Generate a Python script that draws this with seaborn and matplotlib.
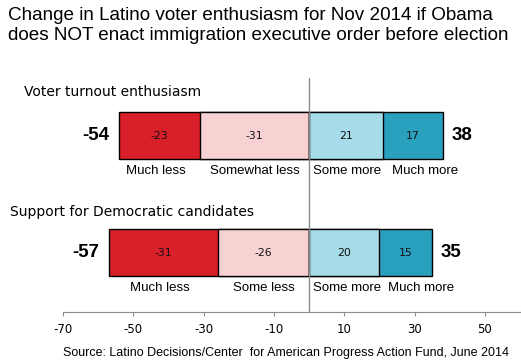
import matplotlib
matplotlib.use("Agg")
import matplotlib.pyplot as plt
import pandas as pd
import seaborn as sns

# Survey data (percent)
groups = ["Voter turnout enthusiasm", "Support for Democratic candidates"]
much_less = [-23, -31]
some_less = [-31, -26]
some_more = [21, 20]
much_more = [17, 15]
less_labels = ["Somewhat less", "Some less"]
xticks = [-70, -50, -30, -10, 10, 30, 50]

title = ("Change in Latino voter enthusiasm for Nov 2014 if Obama\n"
         "does NOT enact immigration executive order before election")
source = "Source: Latino Decisions/Center  for American Progress Action Fund, June 2014"

df = pd.DataFrame({"group": groups, "much_less": much_less, "some_less": some_less,
                   "some_more": some_more, "much_more": much_more})
df["neg_total"] = df["much_less"] + df["some_less"]
df["pos_total"] = df["some_more"] + df["much_more"]

red = "#d91f2a"
pink = "#f8d1d3"
lightblue = "#a6dcea"
teal = "#2aa0bf"

sns.set_style("white")
plt.rcParams["font.family"] = ["DejaVu Sans"]
plt.rcParams["text.color"] = "black"
plt.rcParams["xtick.color"] = "black"

fig = plt.figure(figsize=(5.21, 3.62), dpi=100)
ax = fig.add_axes([63 / 521, (362 - 311.7) / 362, (520 - 63) / 521, (311.7 - 78) / 362])

bw = 0.4
# outer segments first, inner segments drawn on top
sns.barplot(data=df, x="neg_total", y="group", color=red, saturation=1,
            edgecolor="black", linewidth=1, width=bw, ax=ax)
sns.barplot(data=df, x="some_less", y="group", color=pink, saturation=1,
            edgecolor="black", linewidth=1, width=bw, ax=ax)
sns.barplot(data=df, x="pos_total", y="group", color=teal, saturation=1,
            edgecolor="black", linewidth=1, width=bw, ax=ax)
sns.barplot(data=df, x="some_more", y="group", color=lightblue, saturation=1,
            edgecolor="black", linewidth=1, width=bw, ax=ax)

lab_kw = dict(va="center", fontsize=9.5, family="Liberation Sans")
for i, row in df.iterrows():
    segs = [
        (row["neg_total"], row["some_less"], row["much_less"]),
        (row["some_less"], 0, row["some_less"]),
        (0, row["some_more"], row["some_more"]),
        (row["some_more"], row["pos_total"], row["much_more"]),
    ]
    for a, b, val in segs:
        ax.text((a + b) / 2, i, f"{val}", ha="center", va="center", fontsize=7.8, color="#111")
    # category labels under the bar
    ax.text((row["neg_total"] + row["some_less"]) / 2 - 1, i + 0.3, "Much less", ha="center", **lab_kw)
    ax.text(row["some_less"] / 2, i + 0.3, less_labels[i], ha="center", **lab_kw)
    ax.text(1.0, i + 0.3, "Some more", ha="left", **lab_kw)
    ax.text(row["some_more"] + 2.5, i + 0.3, "Much more", ha="left", **lab_kw)
    # net totals
    ax.text(row["neg_total"] - 2.8, i, f"{row['neg_total']}", ha="right", va="center",
            fontsize=13.5, fontweight="bold", family="Liberation Sans")
    ax.text(row["pos_total"] + 2.5, i, f"{row['pos_total']}", ha="left", va="center",
            fontsize=13.5, fontweight="bold", family="Liberation Sans")

ax.axvline(0, color="#8c8c8c", lw=1, zorder=5)
ax.set_xlim(-70, 60)
ax.set_ylim(1.504, -0.493)
ax.set_xticks(xticks)
ax.set_xticklabels([str(t) for t in xticks], fontsize=8.5)
ax.set_yticks([])
ax.set_xlabel("")
ax.set_ylabel("")
for s in ["top", "right", "left"]:
    ax.spines[s].set_visible(False)
ax.spines["bottom"].set_color("#8c8c8c")
ax.tick_params(axis="x", bottom=True, direction="out", length=3, color="#8c8c8c", pad=5)

fig.text(24 / 521, 1 - 92 / 362, groups[0], ha="left", va="center", fontsize=10)
fig.text(10 / 521, 1 - 212 / 362, groups[1], ha="left", va="center", fontsize=10)
fig.text(8 / 521, 1 - 7 / 362, title, ha="left", va="top", fontsize=13.6,
         family="Liberation Sans", linespacing=1.25)
fig.text(63 / 521, 1 - 353 / 362, source, ha="left", va="center", fontsize=9,
         family="Liberation Sans")

fig.savefig("out.png", dpi=100)
